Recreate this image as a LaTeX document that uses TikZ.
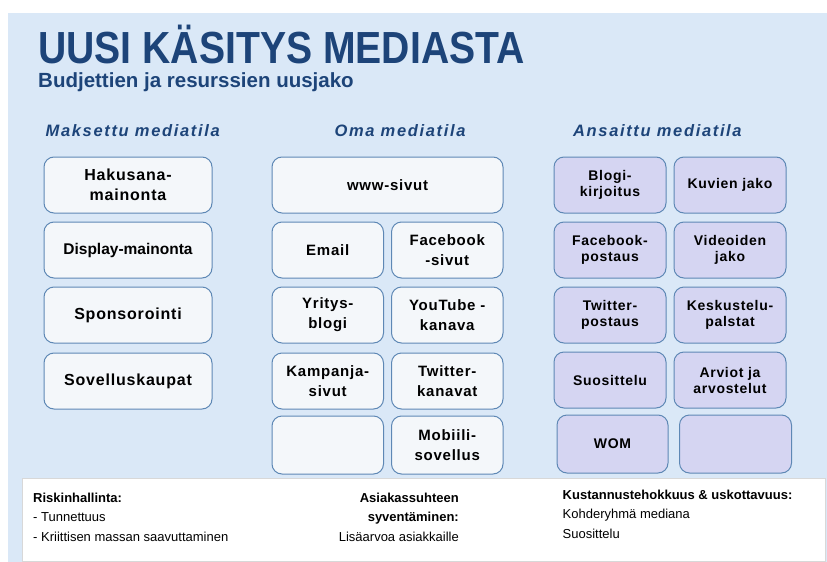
\documentclass[tikz,border=0pt]{standalone}
\usepackage{fontspec}
\setmainfont{Liberation Sans}
\newfontfamily\titlefont[FakeStretch=0.87]{Liberation Sans}
\newfontfamily\boxfont[LetterSpace=5]{Liberation Sans}
\newfontfamily\headfont[LetterSpace=10]{Liberation Sans}
\usetikzlibrary{positioning}

\definecolor{panelblue}{HTML}{DAE8F7}
\definecolor{titleblue}{HTML}{1D4479}
\definecolor{boxline}{HTML}{5E88B5}
\definecolor{ownfill}{HTML}{F4F7FA}
\definecolor{earnfill}{HTML}{D5D5F2}
\definecolor{footline}{HTML}{D8D8D8}

\begin{document}
\begin{tikzpicture}[
    x=1pt, y=1pt,
    node distance=8pt,
    box/.style={rectangle, draw=boxline, line width=1pt, rounded corners=10pt, minimum height=56pt, align=center, inner sep=2pt},
    paidbox/.style={box, fill=ownfill, minimum width=168pt, font=\boxfont\bfseries\fontsize{16}{19.5}\selectfont},
    ownbox/.style={box, fill=ownfill, minimum width=111.5pt, font=\boxfont\bfseries\fontsize{15}{20}\selectfont},
    earnbox/.style={box, fill=earnfill, minimum width=112pt, font=\boxfont\bfseries\fontsize{14}{16}\selectfont},
    colhead/.style={anchor=base, text=titleblue, inner sep=0pt, font=\headfont\bfseries\itshape\fontsize{16.5}{20}\selectfont},
    foot/.style={anchor=base west, align=left, inner sep=0pt, font=\fontsize{13}{19.5}\selectfont}
]
\useasboundingbox (0,0) rectangle (827,-562);
\fill[white] (0,0) rectangle (827,-562);
\fill[panelblue] (8,-13) rectangle (827,-562);

% title
\node[anchor=base west, inner sep=0pt, text=titleblue, font=\titlefont\bfseries\fontsize{45}{50}\selectfont] (title) at (38,-63.3) {UUSI KÄSITYS MEDIASTA};
\node[anchor=base west, inner sep=0pt, text=titleblue, font=\bfseries\fontsize{20.5}{24}\selectfont] (subtitle) at (38,-87.3) {Budjettien ja resurssien uusjako};

% column heads
\node[colhead] (hpaid) at (132.7,-136.7) {Maksettu mediatila};
\node[colhead] (hown) at (400,-136.7) {Oma mediatila};
\node[colhead] (hearn) at (657.4,-136.7) {Ansaittu mediatila};

% paid media
\node[paidbox] (haku) at (128,-185) {Hakusana-\\mainonta};
\node[paidbox, below=of haku, font=\bfseries\fontsize{15.5}{19}\selectfont] (display) {Display-mainonta};
\node[paidbox, below=of display] (sponsor) {Sponsorointi};
\node[paidbox, below=9pt of sponsor] (sovkaup) {Sovelluskaupat};

% owned media
\node[ownbox, minimum width=231pt] (www) at (387.5,-185) {www-sivut};
\node[ownbox, below=8pt of www.south west, anchor=north west] (email) {Email};
\node[ownbox, right=7pt of email] (fbsivut) {Facebook\\-sivut};
\node[ownbox, below=of email] (yblogi) {Yritys-\\blogi};
\node[ownbox, below=of fbsivut] (youtube) {YouTube -\\kanava};
\node[ownbox, below=9pt of yblogi] (kampanja) {Kampanja-\\sivut};
\node[ownbox, below=9pt of youtube] (twkanavat) {Twitter-\\kanavat};
\node[ownbox, below=6pt of kampanja, minimum height=58pt] (ownempty) {};
\node[ownbox, below=6pt of twkanavat, minimum height=58pt] (mobiili) {Mobiili-\\sovellus};

% earned media
\node[earnbox] (blogikirj) at (610,-185) {Blogi-\\kirjoitus};
\node[earnbox, right=7pt of blogikirj] (kuvat) {Kuvien jako};
\node[earnbox, below=of blogikirj] (fbpost) {Facebook-\\postaus};
\node[earnbox, below=of kuvat] (videot) {Videoiden\\jako};
\node[earnbox, below=of fbpost] (twpost) {Twitter-\\postaus};
\node[earnbox, below=of videot] (palstat) {Keskustelu-\\palstat};
\node[earnbox, below=of twpost] (suos) {Suosittelu};
\node[earnbox, below=of palstat] (arviot) {Arviot ja\\arvostelut};
\node[earnbox, below=6pt of suos, xshift=2.5pt, minimum height=58pt, minimum width=111pt] (wom) {WOM};
\node[earnbox, below=6pt of arviot, xshift=5.5pt, minimum height=58pt] (earnempty) {};

% footer (base of a multi-line node sits on its last line)
\draw[fill=white, draw=footline] (22,-478) rectangle (825,-561);
\node[foot] (risk) at (33,-541) {\textbf{Riskinhallinta:}\\- Tunnettuus\\- Kriittisen massan saavuttaminen};
\node[foot, anchor=base east, align=right] (asiakas) at (459,-541) {\textbf{Asiakassuhteen}\\\textbf{syventäminen:}\\Lisäarvoa asiakkaille};
\node[foot] (kust) at (562.5,-538) {\textbf{Kustannustehokkuus \& uskottavuus:}\\Kohderyhmä mediana\\Suosittelu};
\end{tikzpicture}
\end{document}
